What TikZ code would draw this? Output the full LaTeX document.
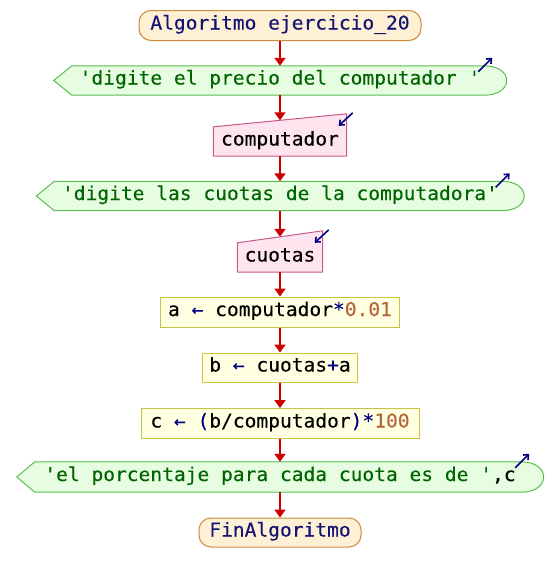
\documentclass[tikz,border=0pt]{standalone}
\usepackage{fontspec}
\setmonofont{DejaVu Sans Mono}[FakeStretch=1.03, FakeBold=0.2]
\usetikzlibrary{calc,arrows.meta}

\definecolor{termfill}{RGB}{254,240,212}
\definecolor{termline}{RGB}{200,140,60}
\definecolor{outfill}{RGB}{230,253,225}
\definecolor{outline}{RGB}{92,190,80}
\definecolor{infill}{RGB}{253,228,238}
\definecolor{inline}{RGB}{200,90,140}
\definecolor{asgfill}{RGB}{255,255,225}
\definecolor{asgline}{RGB}{200,195,70}
\definecolor{flowred}{RGB}{204,0,0}
\definecolor{kwnavy}{RGB}{20,20,115}
\definecolor{opnavy}{RGB}{0,0,128}
\definecolor{strgreen}{RGB}{0,100,0}
\definecolor{numbrown}{RGB}{180,100,60}

\pgfdeclarelayer{bg}
\pgfsetlayers{bg,main}

\newcommand{\kw}[1]{\textcolor{kwnavy}{#1}}
\newcommand{\opr}[1]{\textcolor{opnavy}{#1}}
\newcommand{\strg}[1]{\textcolor{strgreen}{#1}}
\newcommand{\numv}[1]{\textcolor{numbrown}{#1}}

% output shape: arrow point on the left, rounded end on the right
\newcommand{\outshape}[1]{%
  \draw[outbox] ($(#1.north west)+(18,0)$) -- ($(#1.north east)+(-22,0)$)
    .. controls ($(#1.north east)+(8,0)$) and ($(#1.south east)+(8,0)$) .. ($(#1.south east)+(-22,0)$)
    -- ($(#1.south west)+(18,0)$) -- (#1.west) -- cycle;
  \draw[ioarrow] ($(#1.north east)+(-28,6)$) -- ($(#1.north east)+(-14,-8)$);}

% input shape: slanted top rising to the right by #2
\newcommand{\inshape}[2]{%
  \draw[inbox] (#1.south west) -- (#1.north west) -- ($(#1.north east)+(0,-#2)$)
    -- (#1.south east) -- cycle;
  \draw[ioarrow] ($(#1.north east)+(6,-#2-1)$) -- ($(#1.north east)+(-8,-#2+12)$);}

\tikzset{
  x=1pt, y=-1pt,
  txt/.style={font=\ttfamily\fontsize{19}{22}\selectfont, inner sep=0pt,
    text height=13.5pt, text depth=5.5pt, anchor=center},
  term/.style={txt, draw=termline, fill=termfill, line width=1pt,
    rounded corners=12pt, minimum height=30pt},
  asg/.style={txt, draw=asgline, fill=asgfill, line width=1pt, minimum height=30pt},
  iotext/.style={txt, minimum height=29pt},
  outbox/.style={draw=outline, fill=outfill, line width=1pt, line join=miter},
  inbox/.style={draw=inline, fill=infill, line width=1pt},
  flow/.style={draw=flowred, line width=2pt, -{Triangle[length=8pt,width=11pt]}},
  ioarrow/.style={draw=opnavy, line width=1.6pt, -{Straight Barb[length=4pt,width=7pt]}},
}

\begin{document}
\begin{tikzpicture}
\useasboundingbox (0,0) rectangle (560,582);

% nodes, top to bottom
\node[term, minimum width=282pt] (start) at (280,25.5) {\kw{Algoritmo ejercicio\_20}};
\node[iotext, minimum width=452pt] (out1) at (280,80.5) {\strg{'digite el precio del computador '}};
\node[iotext, minimum width=133pt] (in1) at (280,141.5) {computador};
\node[iotext, minimum width=487pt] (out2) at (280,196) {\strg{'digite las cuotas de la computadora'}};
\node[iotext, minimum width=85pt] (in2) at (280,257.5) {cuotas};
\node[asg, minimum width=239pt] (asa) at (280,312) {a \opr{←} computador\opr{*}\numv{0.01}};
\node[asg, minimum width=155pt, minimum height=29pt] (asb) at (280,367.5) {b \opr{←} cuotas\opr{+}a};
\node[asg, minimum width=278pt] (asc) at (280,423.5) {c \opr{←} \opr{(}b/computador\opr{)}\opr{*}\numv{100}};
\node[iotext, minimum width=526pt, minimum height=30pt] (out3) at (280,477) {\strg{'el porcentaje para cada cuota es de '},c};
\node[term, minimum width=162pt, minimum height=29pt] (fin) at (280,532.5) {\kw{FinAlgoritmo}};

% shapes behind the texts
\begin{pgfonlayer}{bg}
  \outshape{out1}
  \outshape{out2}
  \outshape{out3}
  \inshape{in1}{13}
  \inshape{in2}{12}
\end{pgfonlayer}

% arrow ends on the slanted tops
\coordinate (in1top) at ($(in1.north)+(0,-6.5)$);
\coordinate (in2top) at ($(in2.north)+(0,-6)$);

% flow
\draw[flow] (start.south) -- (out1.north);
\draw[flow] (out1.south) -- (in1top);
\draw[flow] (in1.south) -- (out2.north);
\draw[flow] (out2.south) -- (in2top);
\draw[flow] (in2.south) -- (asa.north);
\draw[flow] (asa.south) -- (asb.north);
\draw[flow] (asb.south) -- (asc.north);
\draw[flow] (asc.south) -- (out3.north);
\draw[flow] (out3.south) -- (fin.north);
\end{tikzpicture}
\end{document}
